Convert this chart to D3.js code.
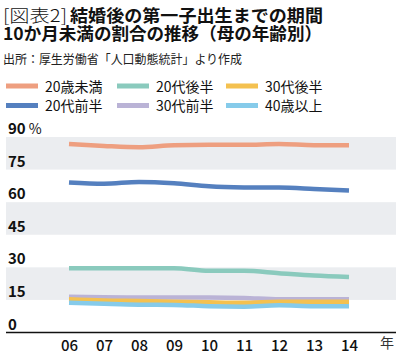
<!DOCTYPE html>
<html><head><meta charset="utf-8">
<script src="https://cdn.jsdelivr.net/npm/d3@7"></script>
<style>
html,body{margin:0;padding:0;background:#fff;}
svg{display:block;font-family:"Noto Sans CJK JP","Noto Sans",sans-serif;}
</style></head>
<body>
<svg id="c" width="404" height="364"></svg>
<script>
const years = ["06","07","08","09","10","11","12","13","14"];
const yTicks = [0,15,30,45,60,75,90];
const seriesNames = ["20歳未満","20代前半","20代後半","30代前半","30代後半","40歳以上"];
const seriesColors = ["#EE9F80","#5580BF","#8ACABD","#BAB3D6","#F4C150","#86CBEA"];
const s20u = [86.8,85.9,85.3,86.2,86.4,86.4,86.8,86.2,86.2];
const s20e = [69.1,68.5,69.3,68.7,67.3,66.8,66.7,66.1,65.4];
const s20l = [29.6,29.6,29.6,29.6,28.4,28.4,27.3,26.2,25.5];
const s30e = [16.5,16.2,16.1,16.1,16.1,15.9,15.3,15.3,15.3];
const s30l = [15.3,14.7,14.5,14.2,13.9,13.7,14.2,14.1,14.1];
const s40 = [13.7,13.2,12.8,12.7,12.1,11.9,12.5,12.1,12.1];
const seriesValues = [s20u,s20e,s20l,s30e,s30l,s40];
const legendOrder = [0,2,4,1,3,5];

const svg = d3.select("#c");
const jp = '"Noto Sans CJK JP","Noto Sans",sans-serif';

// Title
svg.append("text").attr("x",3).attr("y",22).attr("font-size",17.5).attr("font-weight",300).attr("fill","#111")
  .attr("textLength",64).attr("lengthAdjust","spacingAndGlyphs").text("[図表2]");
svg.append("text").attr("x",70).attr("y",22).attr("font-size",17.5).attr("font-weight",700).attr("fill","#111")
  .attr("textLength",253).attr("lengthAdjust","spacingAndGlyphs").text("結婚後の第一子出生までの期間");
svg.append("text").attr("x",3).attr("y",39.5).attr("font-size",17.5).attr("font-weight",700).attr("fill","#111")
  .attr("textLength",319).attr("lengthAdjust","spacingAndGlyphs")
  .text("10か月未満の割合の推移（母の年齢別）");
svg.append("text").attr("x",3).attr("y",64).attr("font-size",12.5).attr("fill","#222")
  .attr("textLength",239).attr("lengthAdjust","spacingAndGlyphs")
  .text("出所：厚生労働省「人口動態統計」より作成");

// Legend
const colX = [6,117,226];
const rowY = [86,105.5];
legendOrder.forEach((si,i)=>{
  const c = i%3, r = Math.floor(i/3);
  svg.append("rect").attr("x",colX[c]).attr("y",rowY[r]-2.5).attr("width",32).attr("height",5)
    .attr("fill",seriesColors[si]);
  svg.append("text").attr("x",colX[c]+39).attr("y",rowY[r]+5.5).attr("font-size",14)
    .attr("fill","#111").text(seriesNames[si]);
});

// Scales
const x = d3.scalePoint().domain(years).range([69,349]);
const y = d3.scaleLinear().domain([0,90]).range([332.5,137]);
const left = 6, right = 396;

// bands
[[75,90],[45,60],[15,30]].forEach(b=>{
  svg.append("rect").attr("x",left).attr("width",right-left)
    .attr("y",y(b[1])).attr("height",y(b[0])-y(b[1])).attr("fill","#EBEDF0");
});

// y tick labels
yTicks.forEach(v=>{
  const t = svg.append("text").attr("x",8).attr("y",y(v)-3).attr("font-size",15)
    .attr("font-weight",700).attr("fill","#111").text(v);
  if(v===90) t.append("tspan").attr("font-weight",400).attr("font-size",14).text(" %");
});

// lines
const line = d3.line().x((d,i)=>x(years[i])).y(d=>y(d)).curve(d3.curveMonotoneX);
seriesValues.forEach((vals,si)=>{
  svg.append("path").attr("d",line(vals)).attr("fill","none")
    .attr("stroke",seriesColors[si]).attr("stroke-width",4.5);
});

// x axis
const xa = svg.append("g").attr("transform",`translate(0,${y(0)})`)
  .call(d3.axisBottom(x).tickSize(0).tickPadding(8));
xa.select(".domain").remove();
xa.append("line").attr("x1",left).attr("x2",right).attr("y1",0).attr("y2",0)
  .attr("stroke","#111").attr("stroke-width",1.3);
xa.selectAll("text").attr("font-size",15).attr("font-family",jp).attr("fill","#111").attr("font-weight",500);
svg.append("text").attr("x",387).attr("y",348).attr("text-anchor","middle")
  .attr("font-size",14).attr("fill","#333").text("年");
</script>
</body></html>
